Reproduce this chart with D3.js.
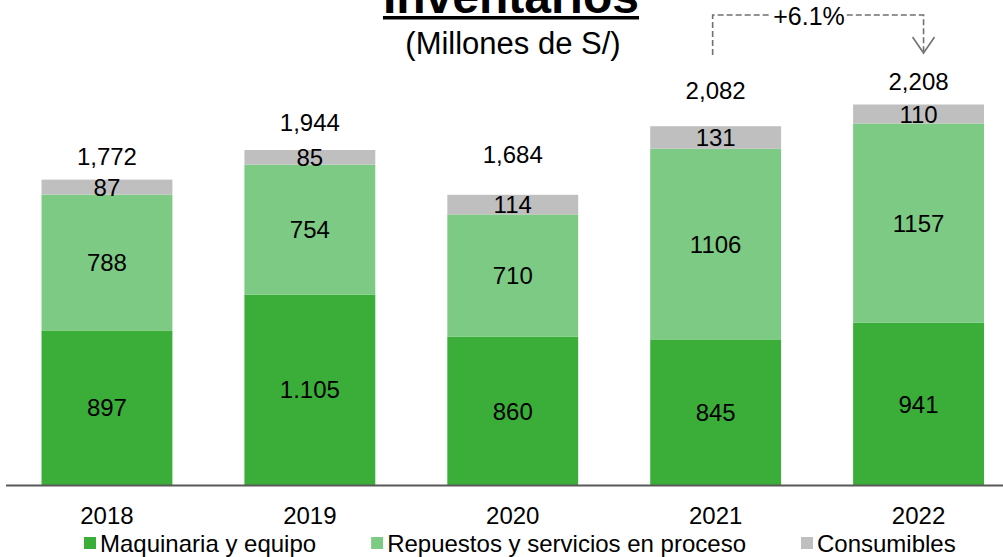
<!DOCTYPE html>
<html>
<head>
<meta charset="utf-8">
<script src="https://cdn.jsdelivr.net/npm/d3@7"></script>
<style>
  html, body { margin: 0; padding: 0; background: #fff; }
  svg { display: block; font-family: "Liberation Sans", Arial, sans-serif; }
</style>
</head>
<body>
<svg id="chart" width="1003" height="557"></svg>
<script>
// ---- data ----
const years = ["2018", "2019", "2020", "2021", "2022"];
const maquinaria = [897, 1105, 860, 845, 941];
const repuestos = [788, 754, 710, 1106, 1157];
const consumibles = [87, 85, 114, 131, 110];
const totals = [1772, 1944, 1684, 2082, 2208];
const maquinariaLabels = ["897", "1.105", "860", "845", "941"];
const repuestosLabels = ["788", "754", "710", "1106", "1157"];
const consumiblesLabels = ["87", "85", "114", "131", "110"];
const totalLabels = ["1,772", "1,944", "1,684", "2,082", "2,208"];
const seriesNames = ["Maquinaria y equipo", "Repuestos y servicios en proceso", "Consumibles"];
const growthLabel = "+6.1%";
const titleText = "Inventarios";
const subtitleText = "(Millones de S/)";

// ---- styles / layout ----
const colors = ["#3BAE3A", "#7DCA84", "#BFBFBF"];
const totalLabelGap = [15, 19, 32, 27, 15];
const svg = d3.select("#chart");
const baseY = 485;

const x = d3.scaleBand().domain(years).range([5.5, 1020]).paddingInner(0.355).paddingOuter(0.1775);
const y = d3.scaleLinear().domain([0, 2208]).range([baseY, 104.5]);

const rows = years.map((yr, i) => ({ year: yr, maquinaria: maquinaria[i], repuestos: repuestos[i], consumibles: consumibles[i], i }));
const keys = ["maquinaria", "repuestos", "consumibles"];
const labelSets = [maquinariaLabels, repuestosLabels, consumiblesLabels];
const stacked = d3.stack().keys(keys)(rows);

const layers = svg.append("g").selectAll("g").data(stacked).join("g").attr("fill", (d, k) => colors[k]);
layers.selectAll("rect").data(d => d).join("rect")
  .attr("x", d => x(d.data.year))
  .attr("width", x.bandwidth())
  .attr("y", d => y(d[1]))
  .attr("height", d => y(d[0]) - y(d[1]));

// segment labels
stacked.forEach((layer, k) => {
  svg.append("g").selectAll("text").data(layer).join("text")
    .attr("x", d => x(d.data.year) + x.bandwidth() / 2)
    .attr("y", d => (y(d[0]) + y(d[1])) / 2)
    .attr("dy", "0.36em")
    .attr("text-anchor", "middle")
    .attr("font-size", 24)
    .attr("fill", "#000")
    .text(d => labelSets[k][d.data.i]);
});

// total labels
svg.append("g").selectAll("text").data(totals).join("text")
  .attr("x", (d, i) => x(years[i]) + x.bandwidth() / 2)
  .attr("y", (d, i) => y(d) - totalLabelGap[i])
  .attr("text-anchor", "middle")
  .attr("font-size", 24)
  .attr("fill", "#000")
  .text((d, i) => totalLabels[i]);

// axis
const axis = svg.append("g").attr("transform", `translate(0,${baseY})`)
  .call(d3.axisBottom(x).tickSize(0).tickSizeOuter(0).tickPadding(22));
axis.select(".domain").attr("stroke", "#595959").attr("stroke-width", 2);
axis.selectAll("text").attr("font-size", 24).attr("fill", "#000")
  .attr("font-family", '"Liberation Sans", Arial, sans-serif');

// title
const title = svg.append("text").attr("x", 511).attr("y", 13).attr("text-anchor", "middle")
  .attr("font-size", 48).attr("font-weight", "bold").attr("fill", "#000").text(titleText);
const tw = title.node().getComputedTextLength();
svg.append("rect").attr("x", 511 - tw / 2).attr("y", 16).attr("width", tw).attr("height", 3.5).attr("fill", "#000");
svg.append("text").attr("x", 513).attr("y", 54).attr("text-anchor", "middle")
  .attr("font-size", 31).attr("fill", "#000").text(subtitleText);

// growth annotation
const ax1 = x("2021") + x.bandwidth() / 2 - 3;
const ax2 = x("2022") + x.bandwidth() / 2 + 5;
const topY = 15;
const tc = 809;
const ann = svg.append("g").attr("stroke", "#707070").attr("stroke-width", 1.6).attr("fill", "none");
const gText = svg.append("text").attr("x", tc).attr("y", 25).attr("text-anchor", "middle")
  .attr("font-size", 25).attr("fill", "#000").text(growthLabel);
const gw = gText.node().getComputedTextLength();
ann.append("path").attr("stroke-dasharray", "6,3")
  .attr("d", `M${ax1},55 V${topY} H${tc - gw / 2 - 2}`);
ann.append("path").attr("stroke-dasharray", "6,3")
  .attr("d", `M${tc + gw / 2 + 2},${topY} H${ax2} V51`);
ann.append("path").attr("d", `M${ax2 - 11},37 L${ax2},53 L${ax2 + 11},37`);

// legend
const legend = svg.append("g");
let lx = 84;
seriesNames.forEach((name, k) => {
  legend.append("rect").attr("x", lx).attr("y", 537).attr("width", 12).attr("height", 12).attr("fill", colors[k]);
  const t = legend.append("text").attr("x", lx + 16).attr("y", 552).attr("font-size", 24).attr("fill", "#000").text(name);
  lx = lx + 16 + t.node().getComputedTextLength() + 55;
});
</script>
</body>
</html>
